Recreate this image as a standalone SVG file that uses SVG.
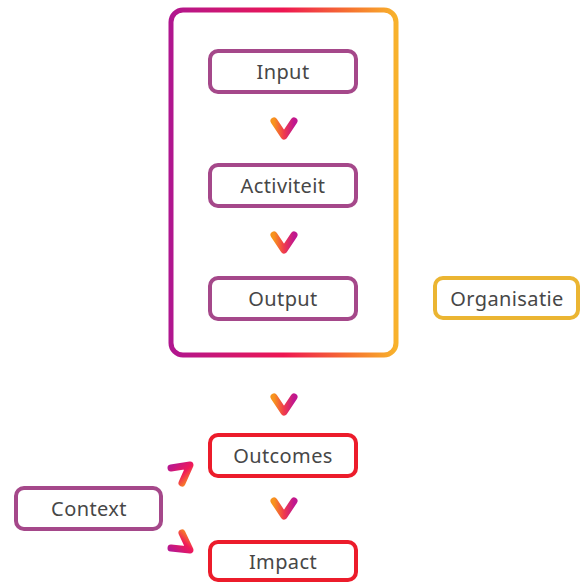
<svg xmlns="http://www.w3.org/2000/svg" width="585" height="584" viewBox="0 0 585 584">
<defs>
<linearGradient id="frameGrad" x1="0" y1="0" x2="1" y2="0">
<stop offset="0" stop-color="#b0168f"/>
<stop offset="0.5" stop-color="#ee1652"/>
<stop offset="0.8" stop-color="#f6742f"/>
<stop offset="1" stop-color="#f8b22c"/>
</linearGradient>
<linearGradient id="chev" x1="0" y1="0.3" x2="1" y2="0.3">
<stop offset="0" stop-color="#f7941d"/>
<stop offset="0.5" stop-color="#f03a4c"/>
<stop offset="1" stop-color="#c0178f"/>
</linearGradient>
<linearGradient id="ctxUp" x1="0" y1="0" x2="1" y2="1">
<stop offset="0" stop-color="#b8178f"/>
<stop offset="0.55" stop-color="#f0195a"/>
<stop offset="1" stop-color="#f8951d"/>
</linearGradient>
<linearGradient id="ctxDown" x1="0" y1="1" x2="1" y2="0">
<stop offset="0" stop-color="#b8178f"/>
<stop offset="0.55" stop-color="#f0195a"/>
<stop offset="1" stop-color="#f8951d"/>
</linearGradient>
<style>
.box{fill:#fff;stroke-width:4}
.purple{stroke:#a5488a}
.red{stroke:#ec1c2b}
.gold{stroke:#ebb532}
.lbl{font-family:"Noto Sans","Open Sans",sans-serif;font-size:20px;letter-spacing:0.4px;fill:#474747;text-anchor:middle;dominant-baseline:central}
.arr{fill:none;stroke-width:7;stroke-linecap:round;stroke-linejoin:round}
</style>
</defs>
<g id="frame">
<rect x="171" y="10" width="225" height="345" rx="12" fill="none" stroke="url(#frameGrad)" stroke-width="5"/>
</g>
<g id="connectors">
<polyline class="arr" stroke="url(#chev)" points="274,121 284,136 294,121"/>
<polyline class="arr" stroke="url(#chev)" points="274,235 284,250 294,235"/>
<polyline class="arr" stroke="url(#chev)" points="274,397 284,412 294,397"/>
<polyline class="arr" stroke="url(#chev)" points="274,501 284,516 294,501"/>
<polyline class="arr" stroke="url(#ctxUp)" points="171,468 190,465 182,483"/>
<polyline class="arr" stroke="url(#ctxDown)" points="171,548 190,550 182,533"/>
</g>
<g id="node-input">
<rect class="box purple" x="210" y="51" width="146" height="41" rx="8"/>
<text class="lbl" x="283" y="71">Input</text>
</g>
<g id="node-activiteit">
<rect class="box purple" x="210" y="165" width="146" height="41" rx="8"/>
<text class="lbl" x="283" y="185">Activiteit</text>
</g>
<g id="node-output">
<rect class="box purple" x="210" y="278" width="146" height="41" rx="8"/>
<text class="lbl" x="283" y="298">Output</text>
</g>
<g id="node-organisatie">
<rect class="box gold" x="435" y="278" width="143" height="40" rx="8"/>
<text class="lbl" x="507" y="298">Organisatie</text>
</g>
<g id="node-outcomes">
<rect class="box red" x="210" y="435" width="146" height="41" rx="8"/>
<text class="lbl" x="283" y="455">Outcomes</text>
</g>
<g id="node-context">
<rect class="box purple" x="16" y="488" width="145" height="41" rx="8"/>
<text class="lbl" x="89" y="508">Context</text>
</g>
<g id="node-impact">
<rect class="box red" x="210" y="542" width="146" height="38" rx="8"/>
<text class="lbl" x="283" y="561">Impact</text>
</g>
</svg>
